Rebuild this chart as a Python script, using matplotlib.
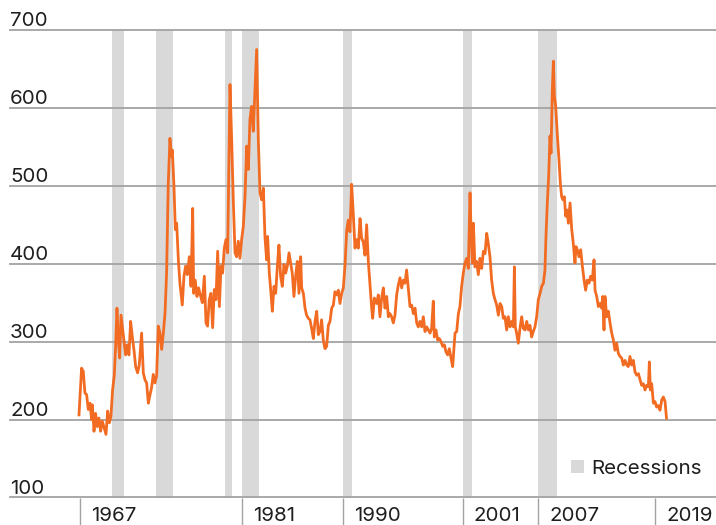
import matplotlib
matplotlib.use("Agg")
import matplotlib.pyplot as plt
import matplotlib.transforms as mtransforms
from matplotlib.patches import Patch

# ---- data ----
years = [
    1966.95, 1967.18, 1967.33, 1967.48, 1967.63, 1967.78, 1967.93, 1968.08, 1968.14, 1968.29,
    1968.43, 1968.58, 1968.73, 1968.88, 1969.03, 1969.21, 1969.36, 1969.51, 1969.66, 1969.80,
    1969.95, 1970.10, 1970.22, 1970.34, 1970.46, 1970.58, 1970.70, 1970.85, 1970.99, 1971.11,
    1971.26, 1971.41, 1971.56, 1971.71, 1971.86, 1972.01, 1972.18, 1972.33, 1972.54, 1972.69,
    1972.84, 1972.99, 1973.14, 1973.29,
    1973.43, 1973.58, 1973.73, 1973.88, 1974.03, 1974.18, 1974.33, 1974.48, 1974.63, 1974.77,
    1974.92, 1975.07, 1975.19, 1975.28, 1975.43, 1975.55, 1975.67, 1975.82, 1975.96, 1976.17,
    1976.32, 1976.47, 1976.62, 1976.80, 1976.95, 1977.10, 1977.19, 1977.33, 1977.48, 1977.63,
    1977.78, 1977.96, 1978.14, 1978.29, 1978.43, 1978.58, 1978.73, 1978.88, 1979.03, 1979.18,
    1979.33, 1979.48, 1979.63, 1979.77, 1979.92, 1980.07, 1980.22,
    1980.28, 1980.43, 1980.58, 1980.73, 1980.88, 1981.02, 1981.17, 1981.32, 1981.47, 1981.62,
    1981.77, 1981.92, 1982.07, 1982.21, 1982.36, 1982.51, 1982.60, 1982.81, 1982.96, 1983.11,
    1983.26, 1983.41, 1983.55, 1983.70, 1983.79, 1983.94, 1984.09, 1984.21, 1984.36, 1984.51,
    1984.66, 1984.80, 1984.95, 1985.10, 1985.25, 1985.40, 1985.55, 1985.70, 1985.85, 1985.99,
    1986.14, 1986.29, 1986.44, 1986.59, 1986.74,
    1986.83, 1986.98, 1987.13, 1987.27, 1987.42, 1987.57, 1987.72, 1987.87, 1988.02, 1988.17,
    1988.32, 1988.46, 1988.61, 1988.76, 1988.91, 1989.06, 1989.21, 1989.36, 1989.51, 1989.66,
    1989.80, 1989.95, 1990.10, 1990.25, 1990.40, 1990.55, 1990.70, 1990.85, 1990.99, 1991.14,
    1991.29, 1991.44, 1991.59, 1991.74, 1991.89, 1992.04, 1992.18, 1992.33, 1992.48, 1992.63,
    1992.78, 1992.93, 1993.08, 1993.17, 1993.32,
    1993.52, 1993.67, 1993.82, 1993.97, 1994.12, 1994.27, 1994.42, 1994.57, 1994.71, 1994.86,
    1995.01, 1995.16, 1995.31, 1995.46, 1995.61, 1995.76, 1995.90, 1996.05, 1996.20, 1996.35,
    1996.50, 1996.65, 1996.80, 1996.95, 1997.10, 1997.24, 1997.39, 1997.54, 1997.69, 1997.84,
    1997.99, 1998.14, 1998.29, 1998.43, 1998.58, 1998.67, 1998.82, 1998.97, 1999.12, 1999.27,
    1999.42, 1999.57, 1999.71, 1999.86, 2000.01, 2000.16, 2000.31,
    2000.52, 2000.67, 2000.82, 2000.96, 2001.11, 2001.26, 2001.41, 2001.56, 2001.71, 2001.86,
    2001.95, 2002.07, 2002.16, 2002.30, 2002.45, 2002.60, 2002.75, 2002.90, 2003.05, 2003.20,
    2003.35, 2003.49, 2003.64, 2003.79, 2003.94, 2004.09, 2004.24, 2004.39, 2004.54, 2004.69,
    2004.83, 2004.98, 2005.13, 2005.28, 2005.43, 2005.58, 2005.73, 2005.82, 2005.90, 2006.02,
    2006.17, 2006.32, 2006.47, 2006.62,
    2006.77, 2006.92, 2007.07, 2007.21, 2007.36, 2007.51, 2007.66, 2007.81, 2007.96, 2008.11,
    2008.26, 2008.41, 2008.55, 2008.64, 2008.76, 2008.88, 2009.00, 2009.09, 2009.21, 2009.30,
    2009.39, 2009.51, 2009.66, 2009.80, 2009.92, 2010.04, 2010.16, 2010.28, 2010.40, 2010.52,
    2010.64, 2010.79, 2010.94, 2011.08, 2011.23, 2011.32, 2011.44, 2011.59, 2011.74, 2011.89,
    2012.04, 2012.18, 2012.33, 2012.48, 2012.63, 2012.78, 2012.93, 2013.02, 2013.17, 2013.32,
    2013.46, 2013.61, 2013.70, 2013.82, 2013.91, 2014.06, 2014.21, 2014.36, 2014.51, 2014.66,
    2014.80, 2014.95, 2015.10, 2015.25, 2015.40, 2015.55, 2015.70, 2015.85, 2015.99, 2016.14,
    2016.29, 2016.44, 2016.59, 2016.74, 2016.89, 2017.04, 2017.18, 2017.33, 2017.48, 2017.63,
    2017.78, 2017.87, 2017.96, 2018.08, 2018.23, 2018.38, 2018.52, 2018.67, 2018.82, 2018.97,
    2019.12, 2019.27, 2019.40,
]
claims = [
    206, 266, 262, 234, 232, 213, 221, 200, 219, 185,
    208, 191, 202, 185, 198, 189, 181, 211, 196, 204,
    238, 257, 294, 343, 302, 279, 334, 315, 298, 283,
    296, 283, 326, 306, 289, 268, 260, 270, 311, 260,
    251, 247, 221, 232,
    241, 258, 247, 256, 320, 311, 290, 311, 337, 388,
    503, 561, 538, 546, 499, 444, 452, 405, 375, 347,
    384, 397, 386, 409, 371, 471, 362, 379, 358, 369,
    360, 350, 384, 324, 320, 354, 362, 318, 367, 354,
    416, 345, 397, 388, 420, 431, 414,
    474, 630, 559, 478, 414, 409, 429, 407, 431, 448,
    486, 551, 521, 585, 602, 570, 602, 675, 559, 491,
    482, 497, 435, 405, 435, 388, 362, 339, 371, 362,
    397, 424, 384, 371, 399, 388, 397, 414, 401, 388,
    358, 384, 403, 362, 409,
    369, 362, 343, 334, 330, 328, 317, 304, 326, 339,
    309, 313, 328, 302, 291, 294, 321, 326, 343, 347,
    364, 360, 366, 349, 362, 369, 398, 443, 456, 441,
    502, 463, 420, 431, 420, 458, 433, 428, 411, 450,
    403, 373, 343, 330, 356,
    349, 360, 332, 356, 369, 343, 358, 332, 336, 332,
    324, 334, 360, 373, 382, 369, 379, 375, 392, 369,
    345, 347, 336, 343, 324, 319, 326, 319, 332, 313,
    319, 315, 311, 317, 352, 306, 315, 302, 304, 300,
    294, 296, 287, 283, 291, 279, 268,
    311, 313, 336, 345, 371, 388, 401, 407, 394, 491,
    443, 401, 452, 396, 403, 386, 407, 394, 416, 413,
    439, 426, 409, 379, 362, 354, 347, 334, 349, 345,
    330, 332, 315, 332, 319, 326, 319, 396, 319, 311,
    298, 317, 332, 317,
    315, 326, 315, 321, 306, 313, 319, 332, 354, 362,
    371, 375, 392, 435, 478, 512, 564, 542, 624, 660,
    615, 602, 564, 534, 504, 486, 482, 486, 461, 469,
    452, 478, 444, 426, 401, 422, 418, 409, 418, 397,
    379, 366, 379, 375, 384, 379, 405, 366, 358, 345,
    349, 343, 358, 315, 358, 332, 339, 324, 311, 302,
    289, 298, 285, 281, 279, 270, 276, 270, 268, 281,
    270, 276, 261, 257, 259, 251, 244, 246, 238, 244,
    242, 274, 238, 246, 221, 223, 216, 218, 212, 225,
    229, 223, 202,
]
recession_starts = [1969.92, 1973.83, 1980.00, 1981.50, 1990.50, 2001.20, 2007.92]
recession_ends = [1970.96, 1975.32, 1980.60, 1983.00, 1991.30, 2002.02, 2009.60]
y_ticks = [100, 200, 300, 400, 500, 600, 700]
x_tick_pos = [1967.04, 1981.50, 1990.52, 2001.23, 2007.93, 2018.38]
x_tick_labels = ["1967", "1981", "1990", "2001", "2007", "2019"]
legend_label = "Recessions"

# ---- style ----
plt.rcParams["font.family"] = ["Inter", "DejaVu Sans"]
FS = 14.8
TXT = "#1f1f1f"
GRID = "#a3a3a3"
ORANGE = "#f26b22"
BAND = "#d9d9d9"

fig = plt.figure(figsize=(7.16, 5.25), dpi=100)
ax = fig.add_axes([10 / 716, 27.5 / 525, 706 / 716, 467.5 / 525])
ax.set_xlim(1960.79, 2023.82)
ax.set_ylim(100, 700)

for s, e in zip(recession_starts, recession_ends):
    ax.axvspan(s, e, color=BAND, lw=0, zorder=1)

for v in y_ticks:
    ax.axhline(v, color=GRID, lw=1.3, zorder=2, clip_on=False)
    ax.text(0.0, v, str(v), transform=mtransforms.blended_transform_factory(ax.transAxes, ax.transData),
            ha="left", va="bottom", fontsize=FS, color=TXT, zorder=5)

ax.plot(years, claims, color=ORANGE, lw=2.0, zorder=4, solid_joinstyle="round")

for sp in ax.spines.values():
    sp.set_visible(False)
ax.set_yticks([])
ax.set_xticks(x_tick_pos, x_tick_labels)
ax.tick_params(axis="x", length=20, width=1.0, color=GRID, direction="out",
               pad=-13.5, labelsize=FS, labelcolor=TXT)
offset = mtransforms.ScaledTranslation(11 / 100, 0, fig.dpi_scale_trans)
for lbl in ax.get_xticklabels():
    lbl.set_horizontalalignment("left")
    lbl.set_transform(lbl.get_transform() + offset)

ax.legend(handles=[Patch(facecolor=BAND, edgecolor="none", label=legend_label)],
          loc="center left", bbox_to_anchor=(571 / 716, 1 - 468.5 / 525),
          bbox_transform=fig.transFigure, frameon=False, fontsize=FS,
          handlelength=0.61, handleheight=0.61, handletextpad=0.36,
          borderpad=0, borderaxespad=0, labelcolor=TXT)

fig.savefig("out.png", dpi=100)
